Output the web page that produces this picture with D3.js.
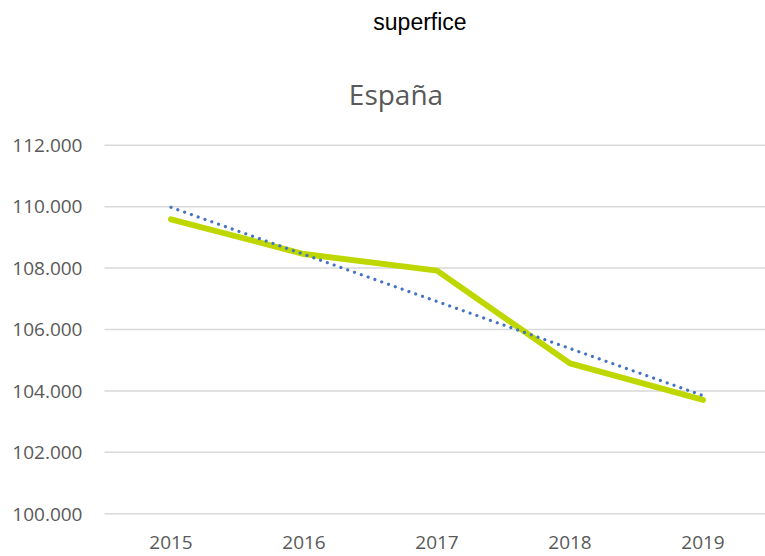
<!DOCTYPE html>
<html>
<head>
<meta charset="utf-8">
<script src="https://cdn.jsdelivr.net/npm/d3@7"></script>
<style>
  html, body { margin: 0; padding: 0; background: #fff; }
  svg { display: block; }
</style>
</head>
<body>
<svg id="chart" width="765" height="556"></svg>
<script>
const pageTitle = "superfice";
const chartTitle = "España";
const years = ["2015", "2016", "2017", "2018", "2019"];
const superficie = [109570, 108440, 107900, 104880, 103690];
const yTicks = [100000, 102000, 104000, 106000, 108000, 110000, 112000];

const svg = d3.select("#chart");
const plotLeft = 104.5, plotRight = 769.5, plotTop = 144.7, plotBottom = 513.3;

const locale = d3.formatLocale({decimal: ",", thousands: ".", grouping: [3], currency: ["", " €"]});
const fmt = locale.format(",.0f");

const x = d3.scaleBand().domain(years).range([plotLeft, plotRight]);
const y = d3.scaleLinear().domain([100000, 112000]).range([plotBottom, plotTop]);
const cx = d => x(d) + x.bandwidth() / 2;

// titles
svg.append("text")
  .attr("x", 420).attr("y", 30)
  .attr("text-anchor", "middle")
  .style("font-family", "'Liberation Sans', Arial, sans-serif")
  .style("font-size", "23px")
  .attr("fill", "#000")
  .text(pageTitle);

svg.append("text")
  .attr("x", 396).attr("y", 105)
  .attr("text-anchor", "middle")
  .style("font-family", "'Open Sans', sans-serif")
  .style("font-size", "28px")
  .attr("fill", "#595959")
  .text(chartTitle);

// gridlines + y labels via axis
const yAxis = d3.axisLeft(y).tickValues(yTicks).tickFormat(fmt)
  .tickSize(-(plotRight - plotLeft)).tickPadding(22);
const gy = svg.append("g").attr("transform", `translate(${plotLeft},0)`).call(yAxis);
gy.select(".domain").remove();
gy.selectAll(".tick line").attr("stroke", "#d9d9d9").attr("stroke-width", 1.5);
gy.selectAll(".tick text")
  .attr("fill", "#595959")
  .attr("dy", "0.36em")
  .style("font-family", "'Open Sans', sans-serif")
  .style("font-size", "19px");

// x labels via axis
const xAxis = d3.axisBottom(x).tickSize(0).tickPadding(0);
const gx = svg.append("g").attr("transform", `translate(0,${plotBottom})`).call(xAxis);
gx.select(".domain").remove();
gx.selectAll(".tick text")
  .attr("fill", "#595959")
  .attr("y", 36).attr("dy", 0)
  .style("font-family", "'Open Sans', sans-serif")
  .style("font-size", "19px");

// data line
const data = years.map((yr, i) => ({yr, v: superficie[i]}));
const line = d3.line().x(d => cx(d.yr)).y(d => y(d.v));
svg.append("path")
  .datum(data)
  .attr("d", line)
  .attr("fill", "none")
  .attr("stroke", "#bfd700")
  .attr("stroke-width", 6)
  .attr("stroke-linejoin", "round")
  .attr("stroke-linecap", "round");

// linear trendline (least squares on category index)
const n = superficie.length;
const idx = d3.range(n);
const mx = d3.mean(idx), my = d3.mean(superficie);
const slope = d3.sum(idx, i => (i - mx) * (superficie[i] - my)) / d3.sum(idx, i => (i - mx) ** 2);
const icpt = my - slope * mx;
const trend = [{yr: years[0], v: icpt}, {yr: years[n - 1], v: icpt + slope * (n - 1)}];
svg.append("path")
  .datum(trend)
  .attr("d", line)
  .attr("fill", "none")
  .attr("stroke", "#4472c4")
  .attr("stroke-width", 3.2)
  .attr("stroke-linecap", "round")
  .attr("stroke-dasharray", "0.01 7.2");
</script>
</body>
</html>
